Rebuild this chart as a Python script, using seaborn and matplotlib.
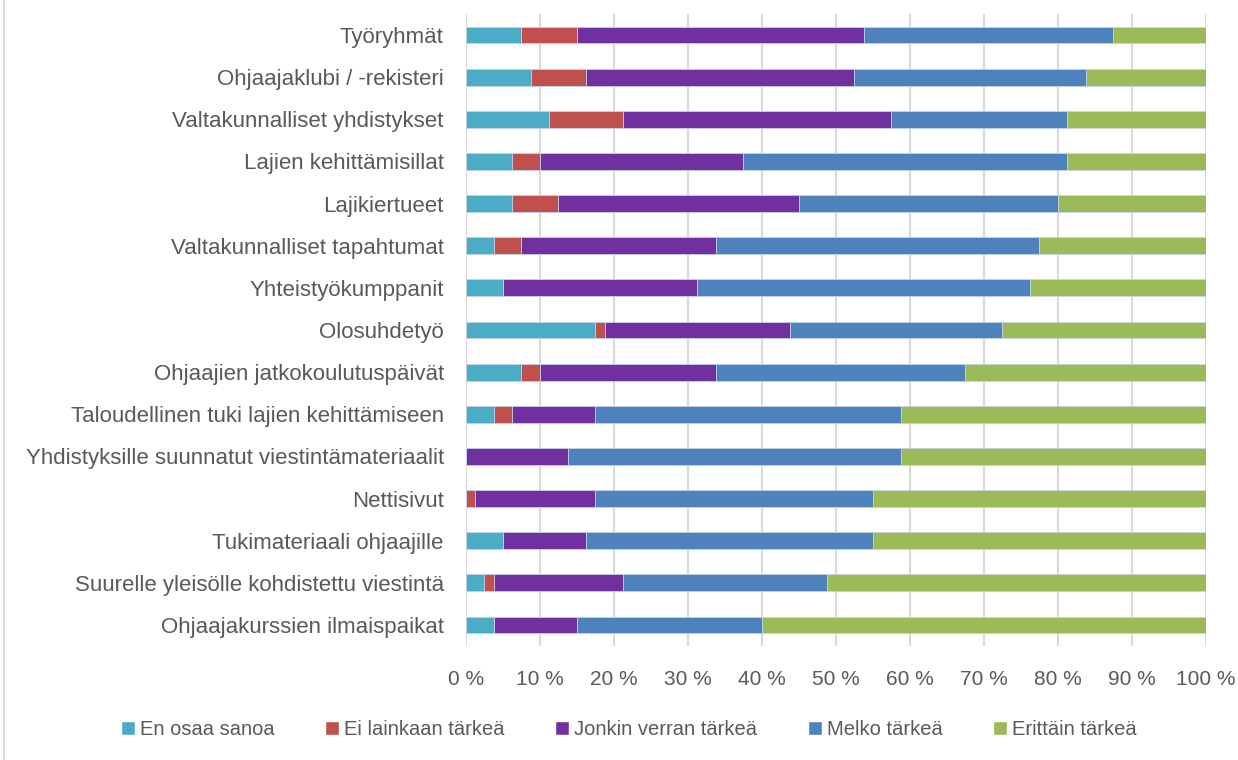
import numpy as np
import pandas as pd
import matplotlib
matplotlib.use('Agg')
import matplotlib.pyplot as plt
from matplotlib.patches import Patch
from matplotlib.lines import Line2D
import seaborn as sns

# Data (osuudet %, luettu kuvasta)
categories = [
    'Työryhmät',
    'Ohjaajaklubi / -rekisteri',
    'Valtakunnalliset yhdistykset',
    'Lajien kehittämisillat',
    'Lajikiertueet',
    'Valtakunnalliset tapahtumat',
    'Yhteistyökumppanit',
    'Olosuhdetyö',
    'Ohjaajien jatkokoulutuspäivät',
    'Taloudellinen tuki lajien kehittämiseen',
    'Yhdistyksille suunnatut viestintämateriaalit',
    'Nettisivut',
    'Tukimateriaali ohjaajille',
    'Suurelle yleisölle kohdistettu viestintä',
    'Ohjaajakurssien ilmaispaikat',
]
series = ['En osaa sanoa', 'Ei lainkaan tärkeä', 'Jonkin verran tärkeä',
          'Melko tärkeä', 'Erittäin tärkeä']

en_osaa = [7.5, 8.75, 11.25, 6.25, 6.25, 3.75, 5, 17.5, 7.5, 3.75, 0, 0, 5, 2.5, 3.75]
ei_lainkaan = [7.5, 7.5, 10, 3.75, 6.25, 3.75, 0, 1.25, 2.5, 2.5, 0, 1.25, 0, 1.25, 0]
jonkin_verran = [38.75, 36.25, 36.25, 27.5, 32.5, 26.25, 26.25, 25, 23.75, 11.25,
                 13.75, 16.25, 11.25, 17.5, 11.25]
melko = [33.75, 31.25, 23.75, 43.75, 35, 43.75, 45, 28.75, 33.75, 41.25,
         45, 37.5, 38.75, 27.5, 25]
erittain = [12.5, 16.25, 18.75, 18.75, 20, 22.5, 23.75, 27.5, 32.5, 41.25,
            41.25, 45, 45, 51.25, 60]

x_ticks = [0, 10, 20, 30, 40, 50, 60, 70, 80, 90, 100]
x_ticklabels = ['0 %', '10 %', '20 %', '30 %', '40 %', '50 %', '60 %',
                '70 %', '80 %', '90 %', '100 %']

PALETTE = {'En osaa sanoa': '#4BACC6', 'Ei lainkaan tärkeä': '#C0504D',
           'Jonkin verran tärkeä': '#7030A0', 'Melko tärkeä': '#4F81BD',
           'Erittäin tärkeä': '#9BBB59'}
TEXT_CLR = '#595959'

df = pd.DataFrame({'kategoria': categories, series[0]: en_osaa,
                   series[1]: ei_lainkaan, series[2]: jonkin_verran,
                   series[3]: melko, series[4]: erittain})
cum = df[series].cumsum(axis=1)

sns.set_style('white')
plt.rcParams['font.family'] = ['Liberation Sans', 'DejaVu Sans']

fig = plt.figure(figsize=(12.38, 7.6), dpi=100)
ax = fig.add_axes([0.3764, 0.15, 0.5977, 0.8316])

# pinottu palkki: piirretään kumulatiiviset summat lopusta alkuun
for s in reversed(series):
    sns.barplot(x=cum[s], y=df['kategoria'], color=PALETTE[s], width=0.4,
                orient='h', ax=ax, saturation=1, zorder=3,
                edgecolor='#c9d6ea', linewidth=0.6)

ax.set_xlim(0, 100)
ax.set_ylim(len(categories) - 0.5, -0.5)
ax.set_xticks(x_ticks)
ax.set_xticklabels(x_ticklabels)
ax.grid(axis='x', color='#d9d9d9', lw=1.5, zorder=0)
ax.grid(axis='y', visible=False)
for sp in ax.spines.values():
    sp.set_visible(False)
ax.set_xlabel(''); ax.set_ylabel('')
ax.tick_params(axis='x', length=0, pad=17, labelsize=15, labelcolor=TEXT_CLR)
ax.tick_params(axis='y', length=0, pad=16, labelsize=16, labelcolor=TEXT_CLR)

handles = [Patch(facecolor=PALETTE[s], label=s) for s in series]
fig.legend(handles=handles, loc='center', bbox_to_anchor=(0.508, 0.04),
           ncol=5, frameon=False, fontsize=14.5, labelcolor=TEXT_CLR,
           handlelength=0.7, handleheight=0.7, handletextpad=0.25,
           columnspacing=2.5)

fig.add_artist(Line2D([0.003, 0.003], [0, 1], transform=fig.transFigure,
                      color='#d9d9d9', lw=1.5))

plt.savefig('out.png', dpi=100)
plt.close()
